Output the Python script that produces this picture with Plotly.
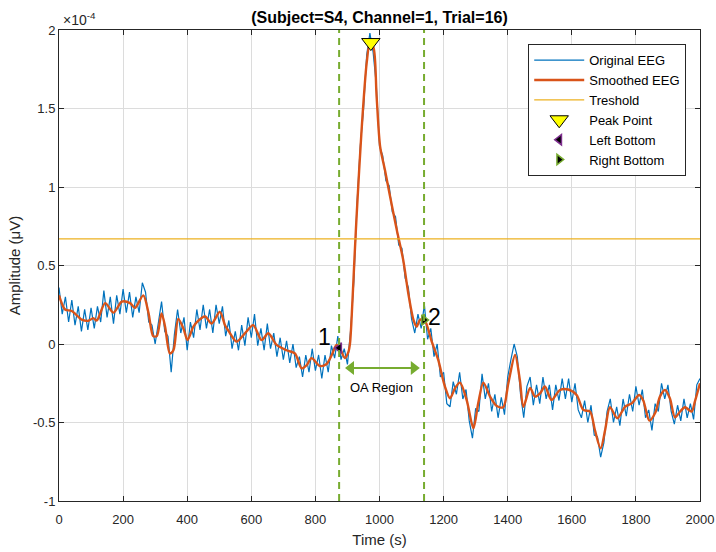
import plotly.graph_objects as go

# ---------------- data (amplitude in units of 1e-4 uV) ----------------
time_orig = list(range(0, 2001, 10))
amp_orig = [
    0.36, 0.19, 0.30, 0.14, 0.28, 0.12, 0.24, 0.08, 0.22, 0.09,
    0.23, 0.10, 0.24, 0.14, 0.34, 0.17, 0.30, 0.13, 0.31, 0.19,
    0.35, 0.20, 0.33, 0.17, 0.30, 0.20, 0.39, 0.33, 0.14, 0.12,
    0.00, 0.15, 0.27, 0.08, 0.05, -0.18, 0.06, 0.22, 0.07, 0.17,
    -0.04, 0.14, 0.04, 0.22, 0.09, 0.25, 0.10, 0.22, 0.07, 0.25,
    0.13, 0.24, 0.05, 0.15, -0.03, 0.08, -0.04, 0.12, -0.01, 0.17,
    0.04, 0.19, -0.01, 0.10, -0.04, 0.13, -0.03, 0.07, -0.08, 0.04,
    -0.10, 0.02, -0.12, 0.00, -0.15, -0.08, -0.21, -0.07, -0.18, -0.03,
    -0.17, -0.07, -0.22, -0.07, -0.18, -0.01, -0.09, 0.05, -0.10, -0.03,
    -0.13, 0.09, 0.40, 0.90, 1.26, 1.49, 1.84, 1.98, 1.86, 1.65,
    1.26, 1.20, 1.04, 1.01, 0.84, 0.81, 0.63, 0.61, 0.42, 0.36,
    0.16, 0.07, 0.19, 0.10, 0.25, 0.03, 0.10, -0.08, 0.00, -0.21,
    -0.18, -0.38, -0.40, -0.24, -0.32, -0.18, -0.35, -0.29, -0.49, -0.60,
    -0.41, -0.43, -0.19, -0.35, -0.25, -0.43, -0.32, -0.47, -0.34, -0.45,
    -0.21, -0.10, 0.00, -0.08, -0.32, -0.47, -0.27, -0.21, -0.39, -0.26,
    -0.38, -0.21, -0.35, -0.26, -0.42, -0.26, -0.36, -0.22, -0.35, -0.22,
    -0.37, -0.25, -0.42, -0.47, -0.36, -0.50, -0.39, -0.58, -0.59, -0.72,
    -0.63, -0.43, -0.35, -0.50, -0.40, -0.52, -0.35, -0.46, -0.32, -0.43,
    -0.27, -0.39, -0.29, -0.47, -0.42, -0.55, -0.38, -0.43, -0.25, -0.35,
    -0.26, -0.43, -0.51, -0.39, -0.49, -0.35, -0.47, -0.38, -0.48, -0.26,
    -0.22,
]

time_smooth = [
    0, 19, 40, 71, 92, 107, 118, 144, 170, 196, 222, 237, 263, 279, 294, 305,
    320, 331, 346, 357, 372, 388, 401, 419, 430, 456, 476, 502, 518, 530, 554,
    580, 606, 632, 653, 679, 710, 736, 757, 773, 788, 814, 835, 851, 866, 877,
    892, 903, 908, 915, 922, 929, 944, 960, 970, 981, 991, 1002, 1017, 1033,
    1054, 1074, 1090, 1106, 1116, 1126, 1140, 1163, 1183, 1204, 1220, 1236,
    1251, 1272, 1293, 1308, 1324, 1345, 1366, 1386, 1402, 1423, 1438, 1449,
    1470, 1485, 1501, 1516, 1537, 1563, 1589, 1615, 1636, 1657, 1672, 1690,
    1704, 1719, 1742, 1766, 1787, 1810, 1823, 1842, 1860, 1875, 1891, 1906,
    1922, 1938, 1953, 1974, 1984, 2000,
]
amp_smooth = [
    0.31, 0.22, 0.21, 0.155, 0.148, 0.165, 0.15, 0.26, 0.20, 0.27, 0.26, 0.23,
    0.31, 0.20, 0.05, 0.05, 0.195, 0.11, -0.06, -0.04, 0.16, 0.10, 0.025, 0.11,
    0.14, 0.175, 0.13, 0.205, 0.12, 0.08, 0.015, 0.068, 0.12, 0.025, 0.068,
    -0.006, -0.04, -0.06, -0.155, -0.134, -0.09, -0.14, -0.127, -0.07, -0.006,
    -0.03, -0.09, -0.05, 0.004, 0.25, 0.55, 0.83, 1.36, 1.79, 1.915, 1.89,
    1.575, 1.257, 1.108, 0.94, 0.726, 0.535, 0.32, 0.153, 0.11, 0.153, 0.155,
    0.015, -0.10, -0.27, -0.346, -0.28, -0.246, -0.357, -0.537, -0.378, -0.246,
    -0.335, -0.395, -0.403, -0.25, -0.07, -0.23, -0.40, -0.28, -0.335, -0.314,
    -0.27, -0.357, -0.293, -0.29, -0.325, -0.42, -0.43, -0.548, -0.665, -0.548,
    -0.403, -0.473, -0.40, -0.378, -0.325, -0.36, -0.488, -0.44, -0.335, -0.293,
    -0.346, -0.467, -0.43, -0.403, -0.43, -0.367, -0.25,
]

threshold = 0.67
peak_t, peak_v = [973], [1.92]
left_t, left_v = [874], [-0.025]
right_t, right_v = [1139], [0.153]
oa_arrow_t = [911, 1107]
oa_arrow_v = [-0.153, -0.153]
x_range = [0, 2000]
y_range = [-1, 2]
x_ticks = list(range(0, 2001, 200))
y_ticks = [-1, -0.5, 0, 0.5, 1, 1.5, 2]
y_tick_labels = ["-1", "-0.5", "0", "0.5", "1", "1.5", "2"]

# ---------------- figure ----------------
FONT = "Liberation Sans, Arial, sans-serif"
GREEN = "#77AC30"
fig = go.Figure()

fig.add_trace(go.Scatter(x=time_orig, y=amp_orig, mode="lines", name="Original EEG",
                         line=dict(color="#0072BD", width=1.2)))
fig.add_trace(go.Scatter(x=time_smooth, y=amp_smooth, mode="lines", name="Smoothed EEG",
                         line=dict(color="#D95319", width=2.4, shape="spline", smoothing=0.8)))
fig.add_trace(go.Scatter(x=x_range, y=[threshold, threshold], mode="lines", name="Treshold",
                         line=dict(color="#EDB120", width=1.2)))
fig.add_trace(go.Scatter(x=peak_t, y=peak_v, mode="markers", name="Peak Point",
                         marker=dict(symbol="triangle-down", size=16, color="#FFFF00",
                                     line=dict(color="black", width=1))))
fig.add_trace(go.Scatter(x=left_t, y=left_v, mode="markers", name="Left Bottom",
                         marker=dict(symbol="triangle-left", size=9, color="black",
                                     line=dict(color="#7E2F8E", width=1.5))))
fig.add_trace(go.Scatter(x=right_t, y=right_v, mode="markers", name="Right Bottom",
                         marker=dict(symbol="triangle-right", size=9, color="black",
                                     line=dict(color=GREEN, width=1.5))))

# OA region double arrow (line with arrow-head markers)
fig.add_trace(go.Scatter(x=oa_arrow_t, y=oa_arrow_v, mode="lines+markers", showlegend=False,
                         hoverinfo="skip", line=dict(color=GREEN, width=2),
                         marker=dict(symbol=["triangle-left", "triangle-right"], size=12,
                                     color=GREEN, line=dict(width=0))))

for xv in (left_t[0], right_t[0]):
    fig.add_shape(type="line", xref="x", yref="y", x0=xv, x1=xv, y0=y_range[0], y1=y_range[1],
                  line=dict(color=GREEN, width=2, dash="7px,5px"), layer="above")

fig.add_annotation(x=1007, y=-0.28, xref="x", yref="y", text="OA Region", showarrow=False,
                   font=dict(size=13, color="black", family=FONT))
fig.add_annotation(x=827, y=0.045, xref="x", yref="y", text="1", showarrow=False,
                   font=dict(size=23, color="black", family=FONT))
fig.add_annotation(x=1173, y=0.17, xref="x", yref="y", text="2", showarrow=False,
                   font=dict(size=23, color="black", family=FONT))
fig.add_annotation(x=0.003, y=1.0, xref="paper", yref="paper", xanchor="left", yanchor="bottom",
                   text="×10<sup>-4</sup>", showarrow=False, yshift=0,
                   font=dict(size=14, color="#262626", family=FONT))

axis_common = dict(showline=True, linecolor="#262626", linewidth=1, mirror="ticks",
                   ticks="inside", ticklen=5, tickcolor="#262626", showgrid=True,
                   gridcolor="#dcdcdc", gridwidth=1, zeroline=False, automargin=False,
                   tickfont=dict(size=13, color="#262626", family=FONT))
fig.update_xaxes(range=x_range, tickvals=x_ticks, ticklabelstandoff=6,
                 title=dict(text="Time (s)", standoff=8,
                            font=dict(size=15, color="#262626", family=FONT)), **axis_common)
fig.update_yaxes(range=y_range, tickvals=y_ticks, ticktext=y_tick_labels,
                 title=dict(text="Amplitude (μV)", standoff=8,
                            font=dict(size=15, color="#262626", family=FONT)), **axis_common)

fig.update_layout(
    width=716, height=552,
    margin=dict(l=59, r=16, t=30, b=51),
    paper_bgcolor="white", plot_bgcolor="white",
    title=dict(text="<b>(Subject=S4, Channel=1, Trial=16)</b>", x=(59 + 700) / 2 / 716,
               xanchor="center", y=1 - 17 / 552, yanchor="middle",
               font=dict(size=16, color="black", family=FONT)),
    legend=dict(x=0.732, y=0.97, xanchor="left", yanchor="top", bgcolor="white",
                bordercolor="#262626", borderwidth=1, itemwidth=50, tracegroupgap=0,
                font=dict(size=13, color="black", family=FONT)),
    showlegend=True,
)

fig.write_html("out.html")
